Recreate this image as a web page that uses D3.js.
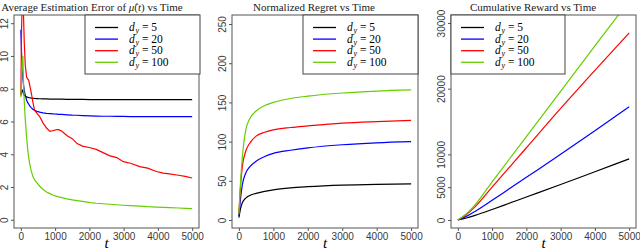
<!DOCTYPE html>
<html>
<head>
<meta charset="utf-8">
<script src="https://cdn.jsdelivr.net/npm/d3@7"></script>
<style>
  body { margin: 0; background: #fff; }
  svg { display: block; }
</style>
</head>
<body>
<svg id="chart" width="640" height="251"></svg>
<script>
// ---- data ----
const seriesNames = ['5', '20', '50', '100'];
const seriesColors = ['#000000', '#0000ff', '#ff0000', '#66cd00'];

// panel 1: average estimation error
const errT = [0, 20, 40, 60, 80, 100, 130, 170, 200, 230, 260, 300, 350, 400, 470, 550, 650, 750, 850, 950, 1050, 1100, 1200, 1340, 1500, 1640, 1800, 2025, 2200, 2400, 2600, 2800, 2990, 3200, 3470, 3700, 3960, 4150, 4340, 4600, 4800, 5000];
const errD5 = [7.6, 7.8, 7.9, 7.8, 7.7, 7.6, 7.55, 7.5, 7.48, 7.46, 7.45, 7.43, 7.42, 7.41, 7.4, 7.39, 7.38, 7.38, 7.37, 7.37, 7.36, 7.36, 7.36, 7.35, 7.35, 7.35, 7.35, 7.34, 7.34, 7.34, 7.34, 7.34, 7.33, 7.33, 7.33, 7.33, 7.33, 7.33, 7.33, 7.33, 7.33, 7.33];
const errD20 = [11.6, 10.2, 9.2, 8.6, 8.2, 7.9, 7.6, 7.3, 7.15, 7.05, 6.95, 6.85, 6.75, 6.68, 6.62, 6.57, 6.53, 6.5, 6.48, 6.46, 6.45, 6.44, 6.43, 6.41, 6.39, 6.38, 6.36, 6.34, 6.33, 6.32, 6.32, 6.31, 6.31, 6.3, 6.3, 6.3, 6.3, 6.3, 6.3, 6.3, 6.3, 6.3];
const errD50 = [7.6, 11.5, 13.5, 13.2, 12.3, 10.8, 9.4, 8.7, 8.6, 8.5, 8.2, 7.8, 7.2, 6.7, 6.5, 6.3, 5.9, 5.6, 5.4, 5.45, 5.5, 5.5, 5.4, 5.15, 4.95, 4.65, 4.5, 4.4, 4.3, 4.1, 3.9, 3.8, 3.55, 3.45, 3.25, 3.15, 2.95, 2.85, 2.8, 2.72, 2.65, 2.55];
const errD100 = [7.5, 8.5, 9.8, 10.0, 8.2, 7.2, 6.1, 5.0, 4.3, 3.8, 3.4, 3.0, 2.65, 2.45, 2.25, 2.05, 1.85, 1.7, 1.6, 1.5, 1.43, 1.4, 1.35, 1.28, 1.22, 1.17, 1.12, 1.05, 1.01, 0.98, 0.95, 0.92, 0.89, 0.86, 0.83, 0.8, 0.78, 0.76, 0.74, 0.72, 0.7, 0.68];

// panel 2: normalized regret
const regT = [0, 50, 100, 200, 300, 500, 750, 1000, 1500, 2000, 3000, 4000, 5000];
const regD5 = [3, 15, 22, 28, 31, 34, 36.5, 38.5, 41, 42.5, 44.5, 45.5, 46];
const regD20 = [5, 28, 45, 60, 67, 75, 81, 85, 89, 92, 96, 98.5, 100];
const regD50 = [8, 45, 68, 88, 97, 107, 112, 115, 118, 120, 123.5, 125.5, 127];
const regD100 = [8, 50, 80, 115, 128, 139, 146, 150, 155, 158, 162, 164.5, 166];

// panel 3: cumulative reward
const rewT = [0, 250, 500, 1000, 1500, 2000, 3000, 4000, 5000];
const rewD5 = [0, 300, 700, 1600, 2550, 3500, 5400, 7350, 9300];
const rewD20 = [0, 550, 1300, 3000, 4750, 6500, 10000, 13600, 17250];
const rewD50 = [0, 850, 2000, 5000, 8000, 11000, 17000, 22800, 28500];
const rewD100 = [0, 950, 2300, 5800, 9250, 12700, 19600, 26500, 33400];

const xTicks = [0, 1000, 2000, 3000, 4000, 5000];
const errTicks = [0, 2, 4, 6, 8, 10, 12];
const regTicks = [0, 50, 100, 150, 200, 250];
const rewTicks = [0, 5000, 10000, 20000, 30000];

const svg = d3.select('#chart');
const serif = "'Liberation Serif', 'DejaVu Serif', serif";
const sans = "'Liberation Sans', Arial, sans-serif";

const plotTop = 15, plotBottom = 228;

const panels = [
    { id: 'err', left: 14, right: 199, yDomain: [-0.5, 12.5], yTicks: errTicks, t: errT,
      series: [errD5, errD20, errD50, errD100], curve: d3.curveLinear,
      titleX: 92, legend: { x: 85, w: 115 } },
    { id: 'reg', left: 232, right: 418, yDomain: [-10.2, 261.5], yTicks: regTicks, t: regT,
      series: [regD5, regD20, regD50, regD100], curve: d3.curveMonotoneX,
      titleX: 314, legend: { x: 303, w: 115 } },
    { id: 'rew', left: 451, right: 636, yDomain: [-1218, 31218], yTicks: rewTicks, t: rewT,
      series: [rewD5, rewD20, rewD50, rewD100], curve: d3.curveMonotoneX,
      titleX: 533, legend: { x: 451, w: 114 } }
];

panels.forEach(p => drawPanel(p));

function drawPanel(p) {
    let g = svg.append('g');
    let x = d3.scaleLinear().domain([-200, 5200]).range([p.left, p.right]);
    let y = d3.scaleLinear().domain(p.yDomain).range([plotBottom, plotTop]);

    g.append('clipPath').attr('id', 'clip_' + p.id)
        .append('rect')
        .attr('x', p.left).attr('y', plotTop)
        .attr('width', p.right - p.left).attr('height', plotBottom - plotTop);

    // x axis
    let xAxis = g.append('g')
        .attr('transform', `translate(0,${plotBottom})`)
        .call(d3.axisBottom(x).tickValues(xTicks).tickSize(3).tickPadding(2).tickFormat(d3.format('d')));
    xAxis.select('.domain').remove();
    xAxis.selectAll('line').attr('stroke', '#555');
    xAxis.selectAll('text')
        .style('font-family', sans).style('font-size', '10px').attr('fill', '#3a3a3a');

    // y axis, labels turned like R's las=0
    let yAxis = g.append('g')
        .attr('transform', `translate(${p.left},0)`)
        .call(d3.axisLeft(y).tickValues(p.yTicks).tickSize(3).tickFormat(d3.format('d')));
    yAxis.select('.domain').remove();
    yAxis.selectAll('line').attr('stroke', '#555');
    yAxis.selectAll('text')
        .style('font-family', sans).style('font-size', '10px').attr('fill', '#3a3a3a')
        .attr('x', null).attr('dy', null)
        .attr('text-anchor', 'middle')
        .attr('transform', 'translate(-6,0) rotate(-90)');

    // lines
    let line = d3.line()
        .x((d, i) => x(p.t[i]))
        .y(d => y(d))
        .curve(p.curve);
    let lines = g.append('g').attr('clip-path', `url(#clip_${p.id})`);
    p.series.forEach((s, i) => {
        lines.append('path')
            .datum(s)
            .attr('d', line)
            .attr('fill', 'none')
            .attr('stroke', seriesColors[i])
            .attr('stroke-width', 1.2);
    });

    // box
    g.append('rect')
        .attr('x', p.left).attr('y', plotTop)
        .attr('width', p.right - p.left).attr('height', plotBottom - plotTop)
        .attr('fill', 'none').attr('stroke', '#555').attr('stroke-width', 1);

    // legend
    let lg = g.append('g');
    lg.append('rect')
        .attr('x', p.legend.x).attr('y', plotTop)
        .attr('width', p.legend.w).attr('height', 59)
        .attr('fill', '#fff').attr('stroke', '#444').attr('stroke-width', 1);
    seriesNames.forEach((name, i) => {
        let ly = 27.5 + i * 11.6;
        lg.append('line')
            .attr('x1', p.legend.x + 10).attr('x2', p.legend.x + 33)
            .attr('y1', ly).attr('y2', ly)
            .attr('stroke', seriesColors[i]).attr('stroke-width', 1.3);
        let t = lg.append('text')
            .attr('x', p.legend.x + 44).attr('y', ly + 3.5)
            .style('font-family', serif).style('font-size', '11.5px');
        t.append('tspan').style('font-style', 'italic').text('d');
        t.append('tspan').style('font-style', 'italic').style('font-size', '8px')
            .attr('dx', 0.8).attr('dy', 2).text('y');
        t.append('tspan').attr('dy', -2).text(' = ' + name);
    });

    // title
    let title = g.append('text')
        .attr('x', p.titleX).attr('y', 11)
        .attr('text-anchor', 'middle')
        .style('font-family', serif).style('font-size', '11px').attr('fill', '#222');
    if (p.id === 'err') {
        title.append('tspan').text('Average Estimation Error of ');
        title.append('tspan').style('font-style', 'italic').text('\u03bc\u0302');
        title.append('tspan').text('(');
        title.append('tspan').style('font-style', 'italic').text('t');
        title.append('tspan').text(') vs Time');
    } else if (p.id === 'reg') {
        title.text('Normalized Regret vs Time');
    } else {
        title.text('Cumulative Reward vs Time');
    }

    // x label
    g.append('text')
        .attr('x', x(2500)).attr('y', 248)
        .attr('text-anchor', 'middle')
        .style('font-family', serif).style('font-style', 'italic').style('font-size', '15px')
        .text('t');
}
</script>
</body>
</html>
